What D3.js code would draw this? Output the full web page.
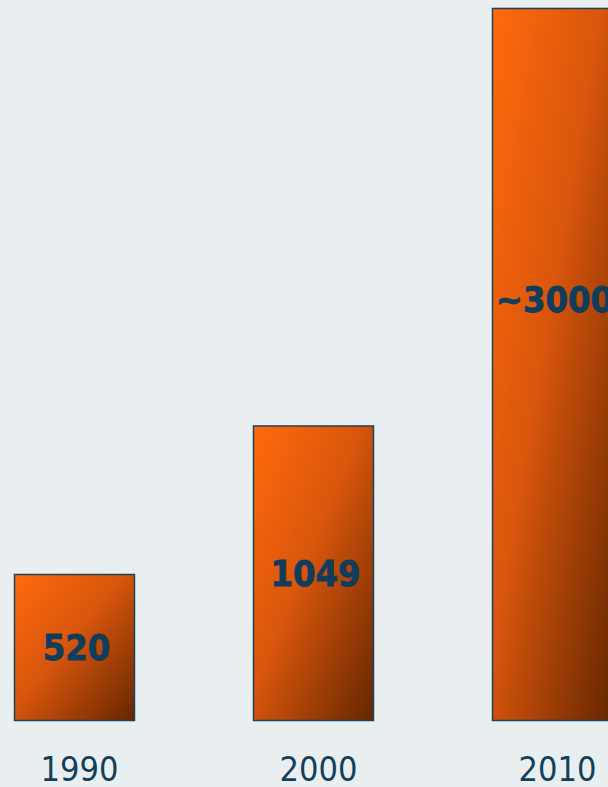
<!DOCTYPE html>
<html lang="en">
  <head>
    <meta charset="utf-8">
    <title>Bars</title>
    <style>
      html, body { margin: 0; padding: 0; background: #e9eef0; overflow: hidden; }
      svg { display: block; }
    </style>
  </head>
  <body>
    <script src="https://cdn.jsdelivr.net/npm/d3@7"></script>
    <script>

    // data
    var years = ["1990", "2000", "2010"],
        values = [520, 1049, 2536],
        labels = ["520", "1049", "~3000"],
        labelAt = [520, 1049, 3000];   // value the label sits in the middle of

    var w = 608,
        h = 787,
        base = 720.5;

    var svg = d3.select("body").append("svg")
        .attr("width", w)
        .attr("height", h);

    var x = d3.scaleBand()
        .domain(years)
        .range([14.5, 612.5])
        .paddingInner(0.498)
        .paddingOuter(0);

    var y = d3.scaleLinear()
        .domain([0, 3000])
        .range([base, base - 146 / 520 * 3000]);

    var grad = svg.append("defs").append("linearGradient")
        .attr("id", "barfill")
        .attr("x1", 0).attr("y1", 0)
        .attr("x2", 1).attr("y2", 1);
    grad.append("stop").attr("offset", "0%").attr("stop-color", "#ff6a0c");
    grad.append("stop").attr("offset", "45%").attr("stop-color", "#d9560c");
    grad.append("stop").attr("offset", "100%").attr("stop-color", "#652600");

    var bars = svg.selectAll("g.bar")
        .data(years)
      .enter().append("g")
        .attr("class", "bar");

    bars.append("rect")
        .attr("x", function(d) { return x(d); })
        .attr("y", function(d, i) { return y(values[i]); })
        .attr("width", x.bandwidth())
        .attr("height", function(d, i) { return base - y(values[i]); })
        .attr("fill", "url(#barfill)")
        .attr("stroke", "#1b4258")
        .attr("stroke-width", 1.5);

    bars.append("text")
        .attr("x", function(d) { return x(d) + x.bandwidth() / 2 + 2; })
        .attr("y", function(d, i) { return (base + y(labelAt[i])) / 2; })
        .attr("dy", "0.36em")
        .attr("text-anchor", "middle")
        .attr("font-family", "'DejaVu Sans Condensed', 'DejaVu Sans', sans-serif")
        .attr("font-weight", "bold")
        .attr("font-size", 36)
        .attr("fill", "#0f3d5b")
        .attr("stroke", "#0f3d5b")
        .attr("stroke-width", 0.8)
        .text(function(d, i) { return labels[i]; });

    // year labels under the bars
    var axis = d3.axisBottom(x).tickSize(0).tickPadding(0);
    var ax = svg.append("g")
        .attr("transform", "translate(5,0)")
        .call(axis);
    ax.select(".domain").remove();
    ax.selectAll("text")
        .attr("y", 781)
        .attr("dy", 0)
        .attr("font-family", "'DejaVu Sans Condensed', 'DejaVu Sans', sans-serif")
        .attr("font-size", 34)
        .attr("fill", "#123f5a");

    </script>
  </body>
</html>
